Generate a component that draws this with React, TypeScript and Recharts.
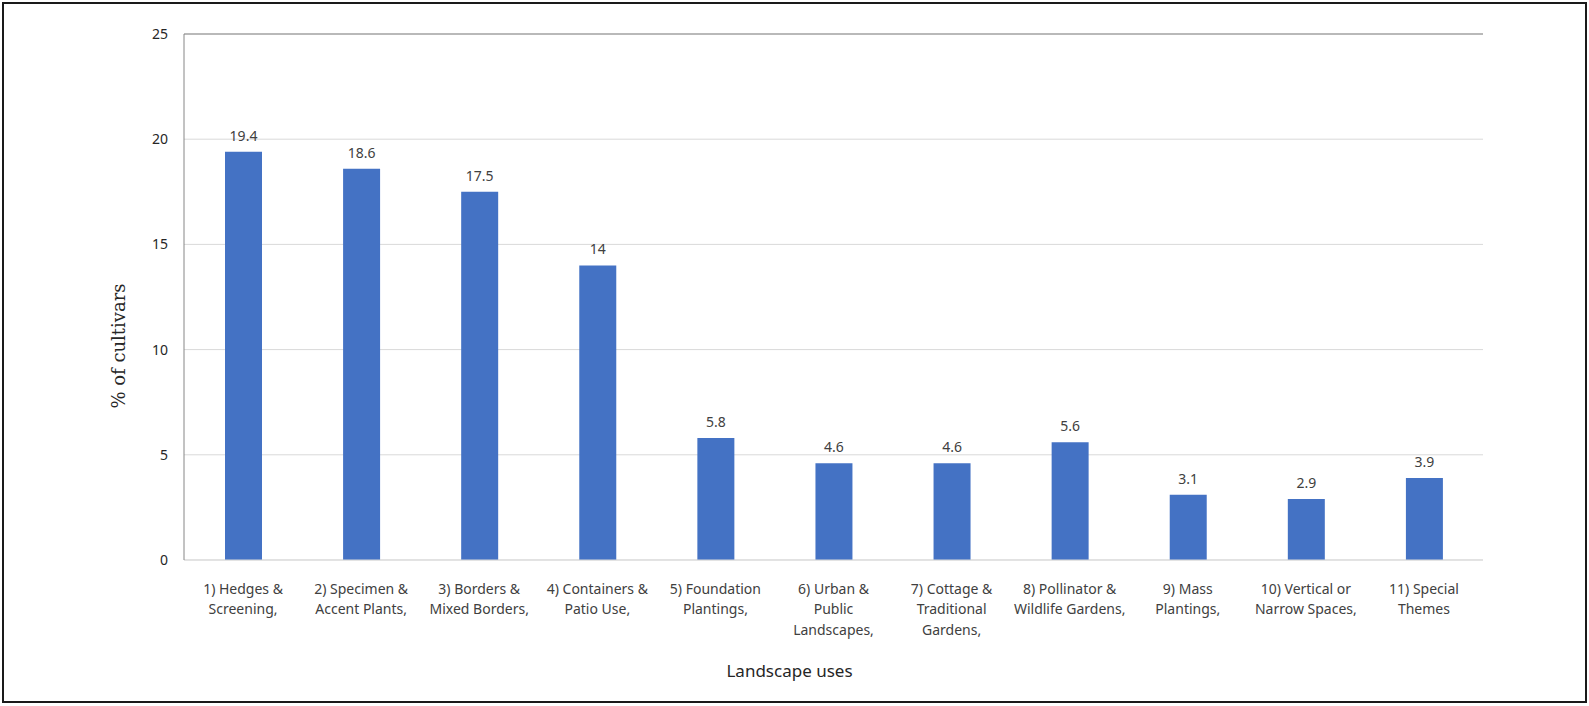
import React from "react";
import {
  BarChart,
  Bar,
  XAxis,
  YAxis,
  CartesianGrid,
  LabelList,
  Label,
  ReferenceLine,
} from "recharts";

const categories = [
  "1) Hedges & Screening,",
  "2) Specimen & Accent Plants,",
  "3) Borders & Mixed Borders,",
  "4) Containers & Patio Use,",
  "5) Foundation Plantings,",
  "6) Urban & Public Landscapes,",
  "7) Cottage & Traditional Gardens,",
  "8) Pollinator & Wildlife Gardens,",
  "9) Mass Plantings,",
  "10) Vertical or Narrow Spaces,",
  "11) Special Themes",
];

const tickLines: string[][] = [
  ["1) Hedges &", "Screening,"],
  ["2) Specimen &", "Accent Plants,"],
  ["3) Borders &", "Mixed Borders,"],
  ["4) Containers &", "Patio Use,"],
  ["5) Foundation", "Plantings,"],
  ["6) Urban &", "Public", "Landscapes,"],
  ["7) Cottage &", "Traditional", "Gardens,"],
  ["8) Pollinator &", "Wildlife Gardens,"],
  ["9) Mass", "Plantings,"],
  ["10) Vertical or", "Narrow Spaces,"],
  ["11) Special", "Themes"],
];

const values = [19.4, 18.6, 17.5, 14, 5.8, 4.6, 4.6, 5.6, 3.1, 2.9, 3.9];

const yTicks = [0, 5, 10, 15, 20, 25];

const xTitle = "Landscape uses";
const yTitle = "% of cultivars";

const data = categories.map((c, i) => ({ name: c, value: values[i] }));

const FONT = "'Noto Sans', sans-serif";
const TEXT_COLOR = "#404040";

const XTick = (props: any) => {
  const { x, y, payload } = props;
  const idx = categories.indexOf(payload.value);
  const lines = idx >= 0 ? tickLines[idx] : [String(payload.value)];
  return (
    <g transform={`translate(${x},${y})`}>
      {lines.map((ln, i) => (
        <text
          key={i}
          x={0}
          y={21 + i * 20.5}
          dy="0.35em"
          textAnchor="middle"
          fontFamily={FONT}
          fontSize={14}
          fill={TEXT_COLOR}
        >
          {ln}
        </text>
      ))}
    </g>
  );
};

export default function App() {
  return (
    <div
      style={{
        position: "absolute",
        left: 0,
        top: 0,
        width: 1589,
        height: 706,
        background: "#fff",
      }}
    >
      <div
        style={{
          position: "absolute",
          left: 2,
          top: 2,
          width: 1581,
          height: 697,
          border: "2px solid #1a1a1a",
        }}
      />
      <div style={{ position: "absolute", left: 0, top: 0 }}>
        <BarChart
          width={1589}
          height={706}
          data={data}
          margin={{ top: 34, right: 106, bottom: 86, left: 124 }}
          barCategoryGap={0}
        >
          <CartesianGrid vertical={false} stroke="#d9d9d9" strokeWidth={1} />
          <XAxis
            dataKey="name"
            interval={0}
            height={60}
            tickLine={false}
            axisLine={{ stroke: "#d9d9d9", strokeWidth: 1 }}
            tick={<XTick />}
          >
            <Label
              content={(p: any) => {
                const vb = p.viewBox;
                return (
                  <text
                    x={vb.x + vb.width / 2 - 44}
                    y={vb.y + 111}
                    dy="0.35em"
                    textAnchor="middle"
                    fontFamily={FONT}
                    fontSize={17}
                    fill="#262626"
                  >
                    {xTitle}
                  </text>
                );
              }}
            />
          </XAxis>
          <YAxis
            domain={[0, 25]}
            ticks={yTicks}
            width={60}
            tickLine={false}
            tickSize={0}
            tickMargin={16}
            axisLine={{ stroke: "#868686", strokeWidth: 1 }}
            tick={{ fontFamily: FONT, fontSize: 14, fill: "#262626" }}
          >
            <Label
              content={(p: any) => {
                const vb = p.viewBox;
                const cx = vb.x - 5;
                const cy = 346;
                return (
                  <text
                    x={cx}
                    y={cy}
                    dy="0.35em"
                    textAnchor="middle"
                    transform={`rotate(-90, ${cx}, ${cy})`}
                    fontFamily="'DejaVu Serif', serif"
                    fontSize={18}
                    fill="#262626"
                  >
                    {yTitle}
                  </text>
                );
              }}
            />
          </YAxis>
          <YAxis
            yAxisId="r"
            orientation="right"
            domain={[0, 25]}
            width={0}
            tick={false}
            tickLine={false}
            axisLine={{ stroke: "#868686", strokeWidth: 1 }}
          />
          <ReferenceLine y={25} stroke="#868686" strokeWidth={1} />
          <Bar
            dataKey="value"
            fill="#4472C4"
            barSize={37}
            isAnimationActive={false}
          >
            <LabelList
              dataKey="value"
              position="top"
              offset={11}
              fontFamily={FONT}
              fontSize={14}
              fill={TEXT_COLOR}
            />
          </Bar>
        </BarChart>
      </div>
    </div>
  );
}
